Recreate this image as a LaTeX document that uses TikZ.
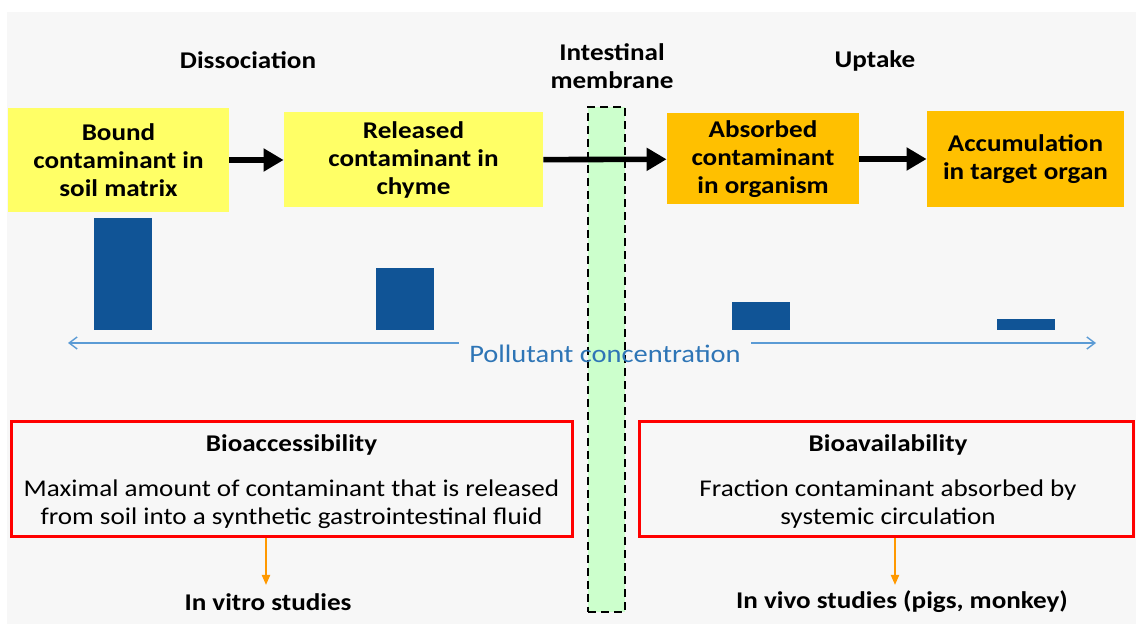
\documentclass[tikz,border=0pt]{standalone}
\usepackage{fontspec}
\setmainfont{Carlito}[FakeStretch=1.13]
\usetikzlibrary{arrows.meta}
\definecolor{soil}{RGB}{255,255,102}
\definecolor{organ}{RGB}{255,192,0}
\definecolor{barblue}{RGB}{16,84,150}
\definecolor{concblue}{RGB}{91,155,213}
\definecolor{conctext}{RGB}{46,117,182}
\definecolor{membrane}{RGB}{204,255,204}
\definecolor{studyorange}{RGB}{255,153,0}
\definecolor{paper}{RGB}{247,247,247}

\begin{document}
\begin{tikzpicture}
  [x=0.5pt,y=-0.5pt,
   every node/.style={font=\fontsize{12}{14}\selectfont,inner sep=0pt},
   stage/.style={align=center,font=\fontsize{12}{14}\selectfont\bfseries},
   bar/.style={fill=barblue,anchor=south,minimum width=29pt},
   flow/.style={line width=2.8pt,-{Triangle[length=10pt,width=11pt]}},
   conc/.style={concblue,line width=0.7pt,-{Straight Barb[length=4pt,width=6pt]}},
   measure/.style={draw=red,line width=1.5pt,minimum height=57.5pt},
   study/.style={studyorange,line width=1pt,-{Triangle[length=5pt,width=4pt]}}]
  \fill[white] (0,0) rectangle (1136,624);
  \fill[paper] (7,12) rectangle (1136,624);
  \useasboundingbox (0,0) rectangle (1136,624);

  \node[fill=membrane,draw,line width=0.75pt,dash pattern=on 4pt off 2.5pt,
        minimum width=18.5pt,minimum height=252.5pt] (mem) at (606.5,359.5) {};

  \node[stage] (dis) at (248,60) {Dissociation};
  \node[stage] (memlabel) at (612,66) {Intestinal\\membrane};
  \node[stage] (up) at (875,61) {Uptake};

  \node[stage,fill=soil,minimum width=110.5pt,minimum height=52pt] (c1) at (118.5,160) {Bound\\contaminant in\\soil matrix};
  \node[stage,fill=soil,minimum width=129.5pt,minimum height=47.5pt] (c2) at (413.5,160) {Released\\contaminant in\\chyme};
  \node[stage,fill=organ,minimum width=96pt,minimum height=45.5pt] (c3) at (763,159) {Absorbed\\contaminant\\in organism};
  \node[stage,fill=organ,minimum width=98.5pt,minimum height=48pt] (c4) at (1025.5,159) {Accumulation\\in target organ};

  \foreach \from/\to in {c1/c2,c2/c3,c3/c4}
    \draw[flow] (\from) -- (\to);

  \foreach \x/\h [count=\i] in {123/56,405/31,760.5/14,1025.5/5.5}
    \node[bar,minimum height=\h pt] (bar\i) at (\x,330) {};

  \node[text=conctext,inner xsep=5pt,font=\fontsize{12.6}{14}\selectfont] (conc) at (605,354) {Pollutant concentration};
  \coordinate (pl) at (68,343);
  \coordinate (pr) at (1096,343);
  \draw[conc] (conc.west |- pl) -- (pl);
  \draw[conc] (conc.east |- pr) -- (pr);

  \node[measure,minimum width=280.5pt] (acc) at (291.5,479.5) {};
  \node[stage] (acctitle) at (291.5,445) {Bioaccessibility};
  \node[align=center] (acctext) at (291.5,504) {Maximal amount of contaminant that is released\\from soil into a synthetic gastrointestinal fluid};
  \node[measure,minimum width=247pt] (avail) at (886,479.5) {};
  \node[stage] (availtitle) at (888,445) {Bioavailability};
  \node[align=center] (availtext) at (888,504) {Fraction contaminant absorbed by\\systemic circulation};

  \node[stage] (vitro) at (268,602) {In vitro studies};
  \node[stage] (vivo) at (902,602) {In vivo studies (pigs, monkey)};
  \coordinate (vitrotop) at (266,585);
  \coordinate (vivotop) at (895,585);
  \draw[study] (vitrotop |- acc.south) -- (vitrotop);
  \draw[study] (vivotop |- avail.south) -- (vivotop);

\end{tikzpicture}
\end{document}
